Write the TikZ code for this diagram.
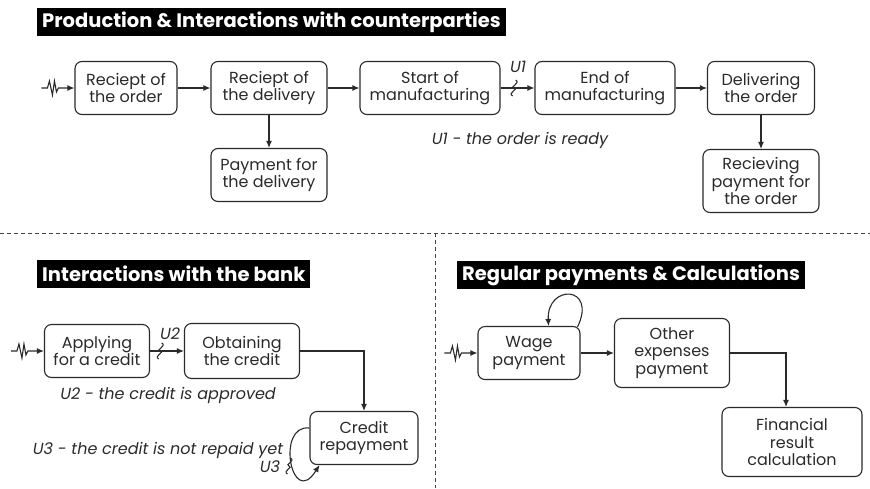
\documentclass[tikz,border=0pt]{standalone}
\usepackage{fontspec}
\setmainfont{Poppins}
\usetikzlibrary{positioning,calc,arrows.meta}
\definecolor{Ink}{HTML}{2A2A2A}
\definecolor{Rule}{HTML}{444444}

\begin{document}
\begin{tikzpicture}[x=1pt,y=-1pt,
    proc/.style={draw=Ink,line width=1.1pt,rounded corners=7pt,align=center,text=Ink,
      font=\fontsize{16}{17.5}\selectfont,inner sep=2pt},
    heading/.style={fill=black,text=white,anchor=west,inner xsep=5pt,inner ysep=0pt,
      minimum height=28pt,font=\bfseries\fontsize{19.5}{21}\selectfont},
    flow/.style={draw=Ink,line width=1.1pt,-{Latex[length=7pt,width=6pt]}},
    note/.style={text=Ink,font=\itshape\fontsize{16}{18}\selectfont},
    tilde/.pic={\draw[Ink,line width=1.1pt] (1.5,-8) .. controls (7,-5) and (-5,-1) .. (0,0)
      .. controls (5,1) and (-7,5) .. (-1.5,8);}]
  \useasboundingbox (0,0) rectangle (870,488);

  % section frames
  \draw[Rule,line width=0.9pt,dash pattern=on 4pt off 3pt] (0,233) -- (870,233);
  \draw[Rule,line width=0.9pt,dash pattern=on 4pt off 3pt] (435,233) -- (435,488);

  \node[heading] (t1) at (37,22) {Production \& Interactions with counterparties};
  \node[heading] (t2) at (37,274) {Interactions with the bank};
  \node[heading] (t3) at (457,275) {Regular payments \& Calculations};

  % process boxes
  \foreach \name/\x/\y/\w/\h/\txt in {
    ord/126/88/102/53/Reciept of\\the order,
    del/269/88/116/53/Reciept of\\the delivery,
    start/430/88/140/53/Start of\\manufacturing,
    endm/605/88/140/53/End of\\manufacturing,
    deliv/761/88/107/53/Delivering\\the order,
    paydel/269/175/116/53/Payment for\\the delivery,
    payord/761/181/116/63/Recieving\\payment for\\the order,
    apply/97/351/105/53/Applying\\for a credit,
    obtain/242/351/115/55/Obtaining\\the credit,
    repay/364/438/108/53/Credit\\repayment,
    wage/529/353/102/53/Wage\\payment,
    other/672/353/115/69/Other\\expenses\\payment,
    fin/792/442/140/69/Financial\\result\\calculation}
  {
    \node[proc,minimum width=\w,minimum height=\h] (\name) at (\x,\y) {\txt};
  }

  % start events
  \foreach \b in {ord,apply,wage}
  {
    \coordinate (s\b) at ($(\b.west)+(-33,0)$);
    \draw[flow] (s\b) -- ++(6,0) -- ++(2,-7) -- ++(3,14) -- ++(2,-14) -- ++(2,11) -- ++(2,-4) -- (\b.west);
  }

  % flows
  \foreach \a/\b in {ord/del,del/start,start/endm,endm/deliv,apply/obtain,wage/other}
    \draw[flow] (\a.east) -- (\b.west);
  \draw[flow] (del.south) -- (paydel.north);
  \draw[flow] (deliv.south) -- (payord.north);
  \draw[flow] (obtain.east) -| (repay.north);
  \draw[flow] (other.east) -| ([xshift=-6pt]fin.north);

  % loops
  \draw[flow] ([shift={(-3,1)}]wage.north east) .. controls +(20,-42) and +(-2,-42) .. ([xshift=-32pt]wage.north east);
  \draw[flow] ([yshift=10pt]repay.west) .. controls +(-34,-4) and +(-28,45) .. ([xshift=10pt]repay.south west);

  % conditions
  \pic at ($(start.east)!0.4!(endm.west)$) {tilde};
  \pic at ($(apply.east)!0.3!(obtain.west)$) {tilde};
  \pic at (289,466) {tilde};
  \node[note] (u1) at (518,67) {U1};
  \node[note] (u2) at (170,334) {U2};
  \node[note] (u3) at (270,467) {U3};
  \node[note] (n1) at (520,140) {U1 - the order is ready};
  \node[note] (n2) at (168,395) {U2 - the credit is approved};
  \node[note] (n3) at (158,450) {U3 - the credit is not repaid yet};
\end{tikzpicture}
\end{document}
